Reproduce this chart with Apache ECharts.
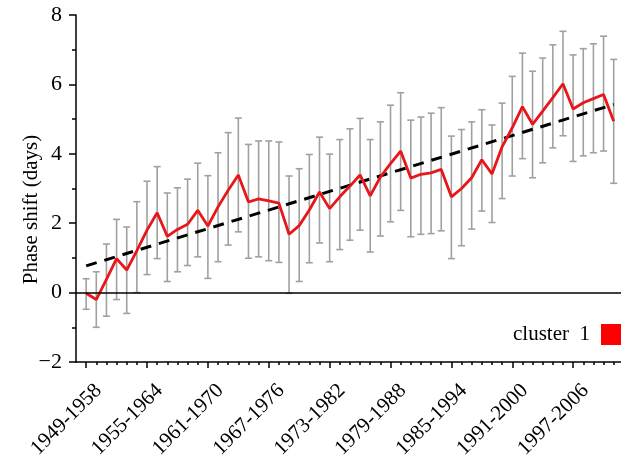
<!DOCTYPE html>
<html>
<head>
<meta charset="utf-8">
<script src="https://cdn.jsdelivr.net/npm/echarts@6/dist/echarts.min.js"></script>
<style>
  html, body { margin: 0; padding: 0; background: #fff; }
  #chart { width: 621px; height: 458px; }
</style>
</head>
<body>
<div id="chart"></div>
<script>
  // 10-year windows
  var periods = [
    '1949-1958', '1950-1959', '1951-1960', '1952-1961', '1953-1962', '1954-1963',
    '1955-1964', '1956-1965', '1957-1966', '1958-1967', '1959-1968', '1960-1969',
    '1961-1970', '1962-1971', '1963-1972', '1964-1973', '1965-1974', '1966-1975',
    '1967-1976', '1968-1977', '1969-1978', '1970-1979', '1971-1980', '1972-1981',
    '1973-1982', '1974-1983', '1975-1984', '1976-1985', '1977-1986', '1978-1987',
    '1979-1988', '1980-1989', '1981-1990', '1982-1991', '1983-1992', '1984-1993',
    '1985-1994', '1986-1995', '1987-1996', '1988-1997', '1989-1998', '1990-1999',
    '1991-2000', '1992-2001', '1993-2002', '1994-2003', '1995-2004', '1996-2005',
    '1997-2006', '1998-2007', '1999-2008', '2000-2009', '2001-2010'
  ]
  // phase shift (days), cluster 1
  var shift = [
    -0.02, -0.2, 0.38, 0.98, 0.65, 1.21, 1.8, 2.3, 1.62, 1.82, 1.97, 2.37, 1.92,
    2.47, 2.95, 3.39, 2.61, 2.7, 2.64, 2.58, 1.68, 1.93, 2.38, 2.9, 2.42, 2.76,
    3.07, 3.39, 2.79, 3.33, 3.72, 4.08, 3.3, 3.41, 3.45, 3.55, 2.76, 3.0, 3.31,
    3.83, 3.42, 4.2, 4.75, 5.36, 4.85, 5.23, 5.62, 6.02, 5.29, 5.47, 5.59, 5.71, 4.94
  ]
  var upper = [
    0.4, 0.6, 1.4, 2.11, 1.89, 2.62, 3.21, 3.63, 2.87, 3.02, 3.27, 3.73, 3.37,
    4.03, 4.61, 5.03, 4.27, 4.37, 4.37, 4.34, 3.36, 3.57, 3.98, 4.48, 3.99, 4.41,
    4.72, 5.02, 4.41, 4.92, 5.4, 5.76, 4.97, 5.06, 5.17, 5.33, 4.51, 4.7, 4.92,
    5.27, 4.83, 5.46, 6.23, 6.9, 6.38, 6.76, 7.14, 7.53, 6.85, 7.03, 7.17, 7.39, 6.72
  ]
  var lower = [
    -0.48, -1.0, -0.68, -0.2, -0.6, 0.0, 0.52, 0.98, 0.32, 0.6, 0.78, 1.03, 0.41,
    0.89, 1.37, 1.75, 0.99, 1.03, 0.92, 0.87, -0.02, 0.32, 0.86, 1.43, 0.89, 1.24,
    1.51, 1.8, 1.17, 1.63, 2.04, 2.37, 1.61, 1.68, 1.7, 1.78, 0.98, 1.35, 1.83,
    2.35, 2.02, 2.71, 3.36, 3.86, 3.31, 3.74, 4.17, 4.52, 3.78, 3.94, 4.03, 4.08, 3.15
  ]
  // linear trend end points
  var trendStart = [0, 0.77]
  var trendEnd = [52, 5.42]

  var serif = 'Liberation Serif'
  var majorTicks = []
  var minorTicks = []
  for (var k = 0; k <= 54; k++) {
    minorTicks.push(k)
    if (k % 6 === 0) majorTicks.push(k)
  }
  // rotated labels sit a little right of their tick in the original
  var labelShift = 0.5

  var chart = echarts.init(document.getElementById('chart'))
  chart.setOption({
    animation: false,
    grid: { left: 76, top: 15, bottom: 96, right: -13, containLabel: false, outerBoundsMode: 'none' },
    legend: {
      left: 513,
      top: 324,
      padding: 0,
      align: 'right',
      icon: 'rect',
      itemWidth: 21,
      itemHeight: 21,
      textStyle: { fontFamily: serif, fontSize: 21, color: '#000', padding: [0, 6, 0, 0] },
      data: [{ name: 'cluster  1', itemStyle: { color: '#ff0000' } }]
    },
    xAxis: [
      {
        type: 'value',
        min: -1,
        max: 54,
        splitLine: { show: false },
        axisLine: { show: true, onZero: false, lineStyle: { color: '#000', width: 1.5 } },
        axisTick: { show: true, customValues: majorTicks, length: 6, lineStyle: { color: '#000', width: 1.5 } },
        axisLabel: { show: false }
      },
      {
        // minor ticks
        type: 'value',
        min: -1,
        max: 54,
        position: 'bottom',
        splitLine: { show: false },
        axisLine: { show: false, onZero: false },
        axisTick: { show: true, customValues: minorTicks, length: 3, lineStyle: { color: '#000', width: 1.5 } },
        axisLabel: { show: false }
      },
      {
        // labels
        type: 'value',
        min: -1 - labelShift,
        max: 54 - labelShift,
        position: 'bottom',
        splitLine: { show: false },
        axisLine: { show: false, onZero: false },
        axisTick: { show: false },
        axisLabel: {
          customValues: majorTicks,
          rotate: 45,
          margin: 18,
          align: 'right',
          verticalAlign: 'top',
          fontFamily: serif,
          fontSize: 21,
          color: '#000',
          formatter: function (v) { return periods[v] || '' }
        }
      }
    ],
    yAxis: {
      type: 'value',
      min: -2,
      max: 8,
      interval: 2,
      name: 'Phase shift (days)',
      nameLocation: 'middle',
      nameGap: 34,
      nameMoveOverlap: false,
      nameTextStyle: { fontFamily: serif, fontSize: 21, color: '#000', padding: [0, 42, 0, 0] },
      splitLine: { show: false },
      axisLine: { show: true, onZero: false, lineStyle: { color: '#000', width: 1.5 } },
      axisTick: { show: true, length: 7, lineStyle: { color: '#000', width: 1.5 } },
      minorTick: { show: true, splitNumber: 2, length: 4, lineStyle: { color: '#000', width: 1.5 } },
      axisLabel: {
        margin: 14,
        fontFamily: serif,
        fontSize: 22,
        color: '#000',
        formatter: function (v) { return v < 0 ? '\u2212' + Math.abs(v) : String(v) }
      }
    },
    series: [
      {
        // error bars
        type: 'custom',
        name: 'err',
        z: 1,
        encode: { x: 0, y: [1, 2] },
        data: periods.map(function (p, i) { return [i, lower[i], upper[i]] }),
        renderItem: function (params, api) {
          var x = api.value(0)
          var lo = api.coord([x, api.value(1)])
          var hi = api.coord([x, api.value(2)])
          var w = 3.5
          var st = { stroke: '#a0a0a0', lineWidth: 1.6 }
          return {
            type: 'group',
            children: [
              { type: 'line', shape: { x1: lo[0], y1: lo[1], x2: hi[0], y2: hi[1] }, style: st },
              { type: 'line', shape: { x1: lo[0] - w, y1: lo[1], x2: lo[0] + w, y2: lo[1] }, style: st },
              { type: 'line', shape: { x1: hi[0] - w, y1: hi[1], x2: hi[0] + w, y2: hi[1] }, style: st }
            ]
          }
        }
      },
      {
        type: 'line',
        name: 'trend',
        z: 3,
        symbol: 'none',
        data: [trendStart, trendEnd],
        lineStyle: { color: '#000', width: 3, type: [11, 8] },
        markLine: {
          silent: true,
          symbol: 'none',
          label: { show: false },
          lineStyle: { color: '#000', width: 1.5, type: 'solid' },
          data: [{ yAxis: 0 }]
        }
      },
      {
        type: 'line',
        name: 'cluster  1',
        z: 4,
        symbol: 'none',
        data: shift.map(function (v, i) { return [i, v] }),
        lineStyle: { color: '#e8161b', width: 2.8 },
        itemStyle: { color: '#e8161b' }
      }
    ]
  })
</script>
</body>
</html>
